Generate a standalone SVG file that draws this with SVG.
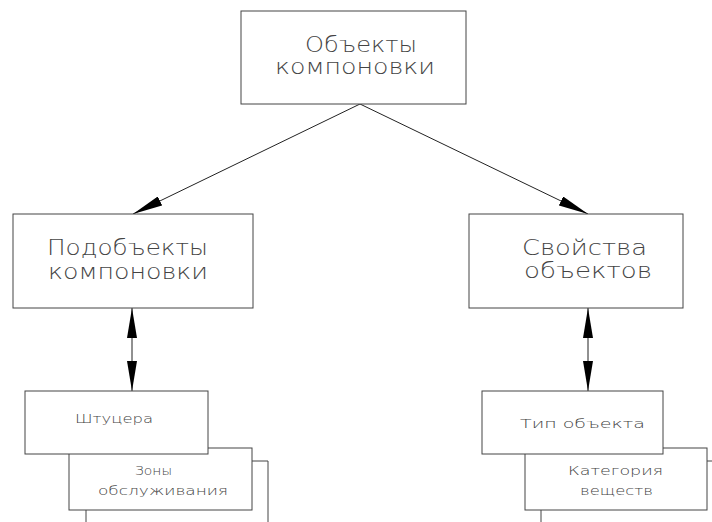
<svg xmlns="http://www.w3.org/2000/svg" width="712" height="522" viewBox="0 0 712 522">
  <defs>
    <style>
      .box { fill: #ffffff; stroke: #444444; stroke-width: 1; }
      .edge { fill: none; stroke: #444444; stroke-width: 1; }
      .conn { fill: none; stroke: #222222; stroke-width: 1; }
      .big { font-family: "DejaVu Sans", "Liberation Sans", sans-serif; font-size: 21px; fill: #444444; font-weight: 200; }
      .small { font-family: "DejaVu Sans", "Liberation Sans", sans-serif; font-size: 13px; fill: #444444; font-weight: 200; }
    </style>
    <marker id="head" viewBox="0 0 30 10" refX="30" refY="5" markerWidth="30" markerHeight="10" markerUnits="userSpaceOnUse" orient="auto-start-reverse">
      <path d="M0,0 L30,5 L0,10 Z" fill="#000000"/>
    </marker>
  </defs>
  <rect width="712" height="522" fill="#ffffff"/>

  <!-- connectors -->
  <g id="connectors">
    <line class="conn" x1="360" y1="104" x2="133" y2="214" marker-end="url(#head)"/>
    <line class="conn" x1="360" y1="104" x2="588" y2="214" marker-end="url(#head)"/>
    <line class="conn" x1="132" y1="308" x2="132" y2="391" marker-start="url(#head)" marker-end="url(#head)"/>
    <line class="conn" x1="588" y1="308" x2="588" y2="391" marker-start="url(#head)" marker-end="url(#head)"/>
  </g>

  <g id="layout-objects">
    <rect class="box" x="241" y="11" width="225" height="93"/>
    <text class="big" x="305" y="52" textLength="112" lengthAdjust="spacingAndGlyphs">Объекты</text>
    <text class="big" x="275" y="74" textLength="160" lengthAdjust="spacingAndGlyphs">компоновки</text>
  </g>

  <g id="layout-subobjects">
    <rect class="box" x="13" y="214" width="240" height="94"/>
    <text class="big" x="47" y="255" textLength="161" lengthAdjust="spacingAndGlyphs">Подобъекты</text>
    <text class="big" x="48" y="279" textLength="160" lengthAdjust="spacingAndGlyphs">компоновки</text>
  </g>

  <g id="object-properties">
    <rect class="box" x="469" y="214" width="214" height="94"/>
    <text class="big" x="522" y="255" textLength="125" lengthAdjust="spacingAndGlyphs">Свойства</text>
    <text class="big" x="524" y="278" textLength="128" lengthAdjust="spacingAndGlyphs">объектов</text>
  </g>

  <!-- stacked cards, left -->
  <g id="subobject-stack-back">
    <polyline class="edge" points="86,522 86,510"/>
    <polyline class="edge" points="252,461 268,461 268,522"/>
  </g>
  <g id="service-zones">
    <rect class="box" x="69" y="448" width="183" height="62"/>
    <text class="small" x="135" y="475" textLength="37" lengthAdjust="spacingAndGlyphs">Зоны</text>
    <text class="small" x="98" y="495" textLength="130" lengthAdjust="spacingAndGlyphs">обслуживания</text>
  </g>
  <g id="nozzles">
    <rect class="box" x="25" y="391" width="183" height="63"/>
    <text class="small" x="75" y="423" textLength="78" lengthAdjust="spacingAndGlyphs">Штуцера</text>
  </g>

  <!-- stacked cards, right -->
  <g id="property-stack-back">
    <polyline class="edge" points="541,522 541,510"/>
    <polyline class="edge" points="707,461 712,461"/>
  </g>
  <g id="substance-category">
    <rect class="box" x="525" y="448" width="182" height="62"/>
    <text class="small" x="568" y="475" textLength="95" lengthAdjust="spacingAndGlyphs">Категория</text>
    <text class="small" x="580" y="495" textLength="73" lengthAdjust="spacingAndGlyphs">веществ</text>
  </g>
  <g id="object-type">
    <rect class="box" x="482" y="391" width="181" height="63"/>
    <text class="small" x="520" y="428" textLength="125" lengthAdjust="spacingAndGlyphs">Тип объекта</text>
  </g>
</svg>
